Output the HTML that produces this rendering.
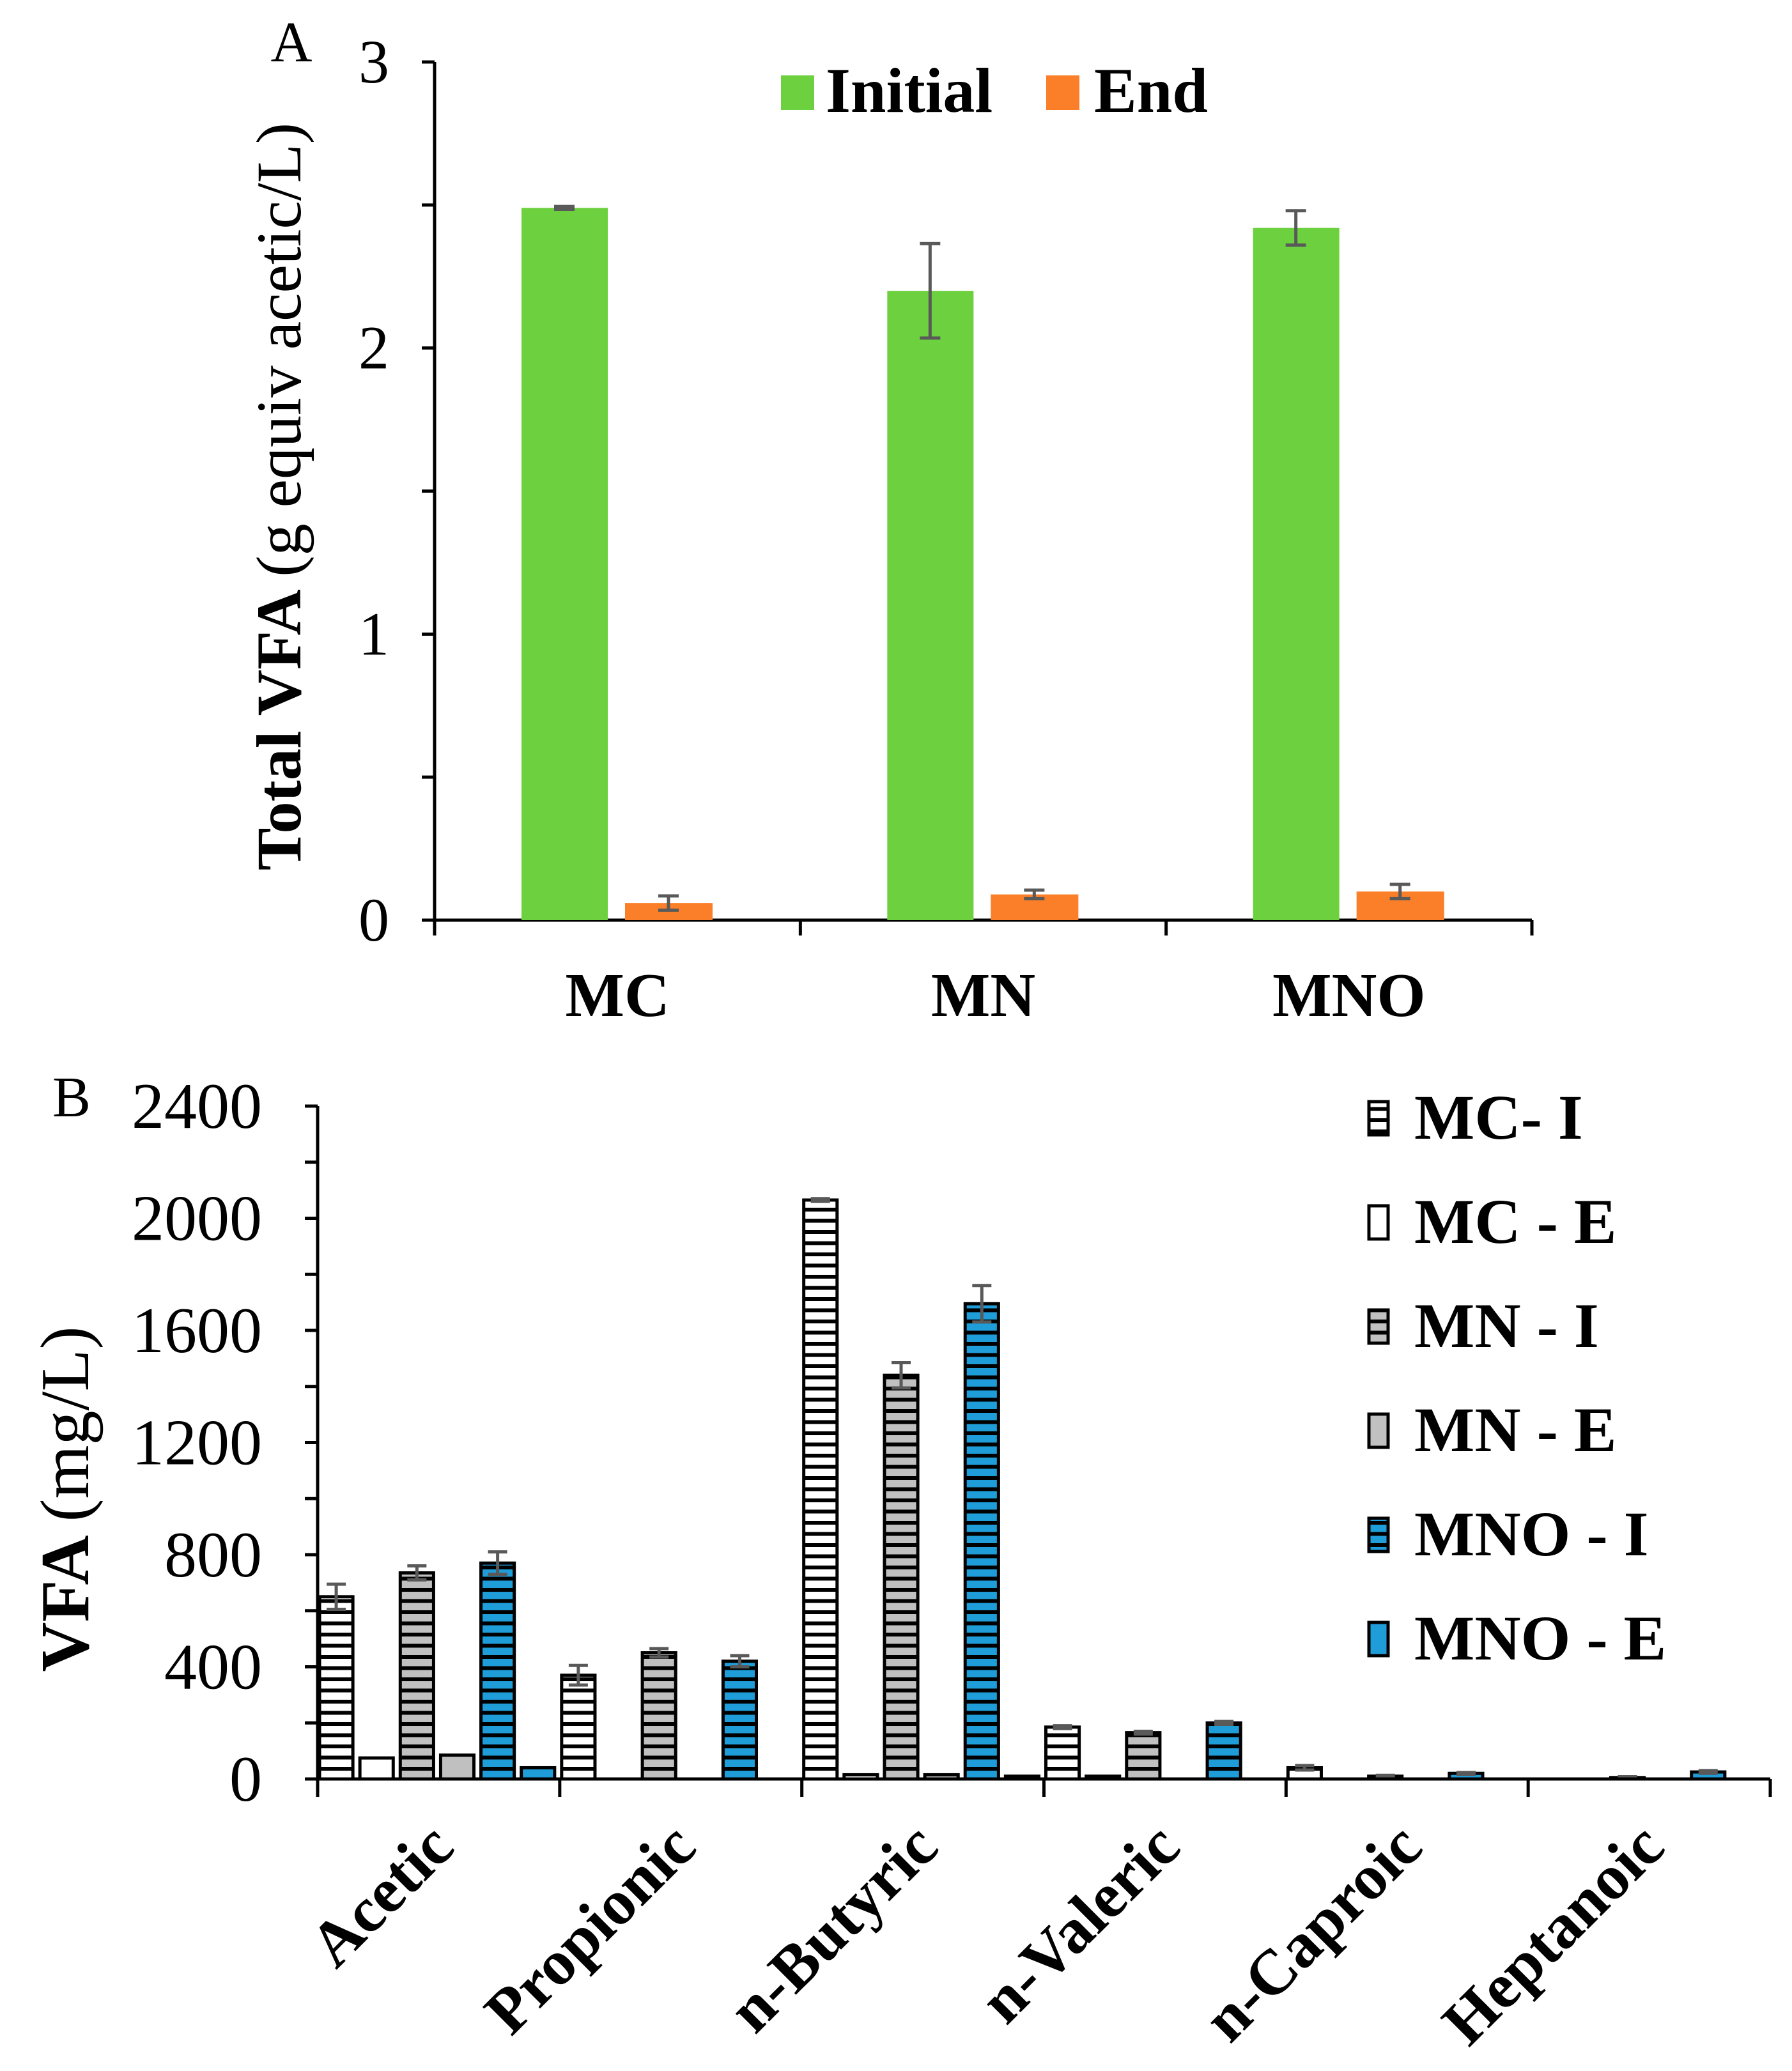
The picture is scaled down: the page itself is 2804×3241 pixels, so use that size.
<!DOCTYPE html>
<html><head><meta charset="utf-8">
<style>
html,body{margin:0;padding:0;background:#fff;}
svg{display:block;font-family:"Liberation Serif",serif;}
</style></head>
<body>
<svg id="chart" width="2804" height="3241" viewBox="0 0 2804 3241" xmlns="http://www.w3.org/2000/svg">
<defs>
<pattern id="hatchW" patternUnits="userSpaceOnUse" width="20" height="17.5"><rect width="20" height="17.5" fill="#fff"/><rect y="0" width="20" height="6" fill="#000"/></pattern>
<pattern id="hatchG" patternUnits="userSpaceOnUse" width="20" height="17.5"><rect width="20" height="17.5" fill="#c0c0c0"/><rect y="0" width="20" height="6" fill="#000"/></pattern>
<pattern id="hatchB" patternUnits="userSpaceOnUse" width="20" height="17.5"><rect width="20" height="17.5" fill="#1f9dd9"/><rect y="0" width="20" height="6" fill="#000"/></pattern>
</defs>
<g id="panelA"></g>
<g id="panelB"></g>
</svg>
<script>
// Panel A data
const catsA = ["MC","MN","MNO"];
const initialA = [2.49, 2.20, 2.42];
const initialErrA = [0.005, 0.165, 0.06];
const endA = [0.06, 0.09, 0.10];
const endErrA = [0.025, 0.015, 0.025];
const ticksA = [0,1,2,3];

// Panel B data
const catsB = ["Acetic","Propionic","n-Butyric","n-Valeric","n-Caproic","Heptanoic"];
const seriesNamesB = ["MC- I","MC - E","MN - I","MN - E","MNO - I","MNO - E"];
const mcI = [650, 370, 2065, 185, 40, 0];
const mcIErr = [45, 35, 5, 5, 8, 0];
const mcE = [75, 0, 15, 10, 0, 0];
const mnI = [735, 450, 1440, 165, 10, 5];
const mnIErr = [25, 15, 45, 5, 3, 3];
const mnE = [85, 0, 15, 0, 0, 0];
const mnoI = [770, 420, 1695, 200, 20, 25];
const mnoIErr = [40, 20, 65, 5, 3, 5];
const mnoE = [40, 0, 10, 0, 0, 0];
const ticksB = [0,400,800,1200,1600,2000,2400];

const NS = "http://www.w3.org/2000/svg";
function mk(parent, tag, attrs, text){
  const e = document.createElementNS(NS, tag);
  for (const k in attrs) e.setAttribute(k, attrs[k]);
  if (text !== undefined) e.textContent = text;
  parent.appendChild(e);
  return e;
}
function errBar(g, x, yTop, yBot, cap){
  const e = mk(g,'path',{d:`M${x-cap},${yTop}H${x+cap}M${x},${yTop}V${yBot}M${x-cap},${yBot}H${x+cap}`,stroke:'#595959','stroke-width':5,fill:'none'});
  
  
}

// ---------- Panel A ----------
(function(){
  const g = document.getElementById('panelA');
  const x0 = 680, x1 = 2397, yZero = 1440, yTop = 97;
  const yA = v => yZero - (yZero - yTop) * v / 3;
  const catW = (x1 - x0) / catsA.length;
  let a = mk(g,'line',{x1:x0,y1:yTop,x2:x0,y2:yZero,stroke:'#000','stroke-width':5});
   
  a = mk(g,'line',{x1:x0,y1:yZero,x2:x1,y2:yZero,stroke:'#000','stroke-width':5});
   
  for (let v = 0; v <= 3.0001; v += 0.5){
    const t = mk(g,'line',{x1:x0-20,y1:yA(v),x2:x0,y2:yA(v),stroke:'#000','stroke-width':5});
     
  }
  ticksA.forEach(v=>{
    const t = mk(g,'text',{x:585,y:yA(v)+32,'text-anchor':'middle','font-size':96},String(v));
     
  });
  for (let i = 0; i <= catsA.length; i++){
    const t = mk(g,'line',{x1:x0+i*catW,y1:yZero,x2:x0+i*catW,y2:yZero+24,stroke:'#000','stroke-width':5});
     
  }
  catsA.forEach((c,i)=>{
    const cx = x0 + (i+0.5)*catW;
    const gx = x0 + i*catW;
    const b1 = mk(g,'rect',{x:gx+136,y:yA(initialA[i]),width:135,height:yZero-yA(initialA[i]),fill:'#6dd03f'});
     
    const b2 = mk(g,'rect',{x:gx+298,y:yA(endA[i]),width:137,height:yZero-yA(endA[i]),fill:'#fa7f28'});
     
    errBar(g, gx+203, yA(initialA[i]+initialErrA[i]), yA(initialA[i]-initialErrA[i]), 16);
    errBar(g, gx+366, yA(endA[i]+endErrA[i]), yA(endA[i]-endErrA[i]), 16);
    const t = mk(g,'text',{x:cx,y:1590,'text-anchor':'middle','font-size':98,'font-weight':'bold'},c);
     
  });
  let t = mk(g,'text',{x:456,y:96,'text-anchor':'middle','font-size':90},'A');
   
  t = mk(g,'text',{transform:'translate(470,777) rotate(-90)','text-anchor':'middle','font-size':100});
   
  mk(t,'tspan',{'font-weight':'bold'},'Total VFA ');
  mk(t,'tspan',{},'(g equiv acetic/L)');
  let l = mk(g,'rect',{x:1222,y:118,width:52,height:54,fill:'#6dd03f'});
   
  l = mk(g,'text',{x:1292,y:175,'font-size':100,'font-weight':'bold'},'Initial');
   
  l = mk(g,'rect',{x:1637,y:118,width:52,height:54,fill:'#fa7f28'});
   
  l = mk(g,'text',{x:1712,y:175,'font-size':100,'font-weight':'bold'},'End');
   
})();

// ---------- Panel B ----------
(function(){
  const g = document.getElementById('panelB');
  const x0 = 497, x1 = 2770, yZero = 2784, yTop = 1731;
  const yB = v => yZero - (yZero - yTop) * v / 2400;
  const catW = (x1 - x0) / catsB.length;
  const series = [mcI, mcE, mnI, mnE, mnoI, mnoE];
  const errs = [mcIErr, null, mnIErr, null, mnoIErr, null];
  const fills = ['url(#hatchW)','#fff','url(#hatchG)','#c0c0c0','url(#hatchB)','#1f9dd9'];
  const keys = ['mc-i','mc-e','mn-i','mn-e','mno-i','mno-e'];
  const pitch = catW / 6, bw = pitch - 11;
  let a = mk(g,'line',{x1:x0,y1:yTop,x2:x0,y2:yZero,stroke:'#000','stroke-width':5});
   
  for (let v = 0; v <= 2400; v += 200){
    const t = mk(g,'line',{x1:x0-20,y1:yB(v),x2:x0,y2:yB(v),stroke:'#000','stroke-width':5});
     
  }
  ticksB.forEach(v=>{
    const t = mk(g,'text',{x:410,y:yB(v)+34,'text-anchor':'end','font-size':102},String(v));
     
  });
  catsB.forEach((c,i)=>{
    const gx = x0 + i*catW;
    series.forEach((s,j)=>{
      const v = s[i];
      const bx = gx + 3 + j*pitch;
      if (v > 0){
        const r = mk(g,'rect',{x:bx,y:yB(v),width:bw,height:yZero-yB(v),fill:fills[j],stroke:'#000','stroke-width':5});
         
      }
      if (errs[j] && errs[j][i] > 0){
        errBar(g, bx+bw/2, yB(v+errs[j][i]), yB(Math.max(0,v-errs[j][i])), 15);
      }
    });
    const cx = gx + catW/2;
    const t = mk(g,'text',{transform:`translate(${cx+28},${2895}) rotate(-45)`,'text-anchor':'end','font-size':100,'font-weight':'bold'},c);
     
  });
  a = mk(g,'line',{x1:x0,y1:yZero,x2:x1,y2:yZero,stroke:'#000','stroke-width':5});
   
  for (let i = 0; i <= catsB.length; i++){
    const t = mk(g,'line',{x1:x0+i*catW,y1:yZero,x2:x0+i*catW,y2:yZero+28,stroke:'#000','stroke-width':5});
     
  }
  let t = mk(g,'text',{x:112,y:1747,'text-anchor':'middle','font-size':90},'B');
   
  t = mk(g,'text',{transform:'translate(138,2346) rotate(-90)','text-anchor':'middle','font-size':108});
   
  mk(t,'tspan',{'font-weight':'bold'},'VFA ');
  mk(t,'tspan',{},'(mg/L)');
  seriesNamesB.forEach((n,j)=>{
    const ly = 1724 + j*163;
    const r = mk(g,'rect',{x:2142,y:ly,width:30,height:52,fill:fills[j],stroke:'#000','stroke-width':5});
     
    const tx = mk(g,'text',{x:2213,y:ly+58,'font-size':100,'font-weight':'bold'},n);
     
  });
})();
</script>
</body></html>
